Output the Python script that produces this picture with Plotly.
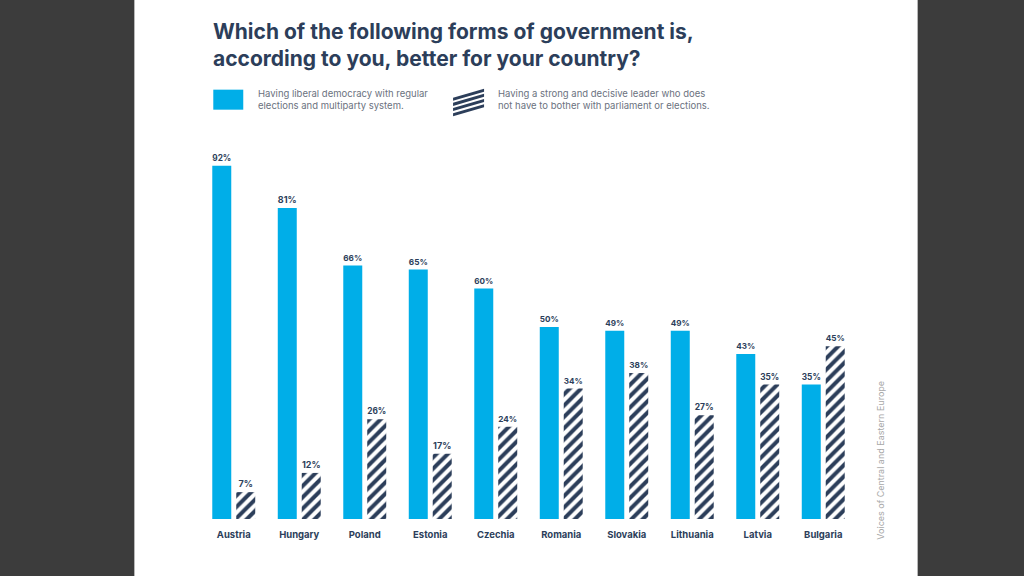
import plotly.graph_objects as go

countries = ["Austria", "Hungary", "Poland", "Estonia", "Czechia", "Romania",
             "Slovakia", "Lithuania", "Latvia", "Bulgaria"]
democracy = [92, 81, 66, 65, 60, 50, 49, 49, 43, 35]
strong_leader = [7, 12, 26, 17, 24, 34, 38, 27, 35, 45]

title_text = "Which of the following forms of government is,<br>according to you, better for your country?"
legend_a = "Having liberal democracy with regular<br>elections and multiparty system."
legend_b = "Having a strong and decisive leader who does<br>not have to bother with parliament or elections."
source = "Voices of Central and Eastern Europe"

BLUE = "#00aee8"
NAVY = "#2c3e5a"
DARK = "#3c3c3c"
FONT = "Inter"

W, H = 1024, 576
L, R, T, B = 200.7, 856.3, 135.3, 519.0
pw, ph = R - L, B - T


def px(x):
    return (x - L) / pw


def py(y):
    return (B - y) / ph


fig = go.Figure()
fig.add_trace(go.Bar(
    x=countries, y=democracy, name="democracy",
    marker=dict(color=BLUE, line=dict(width=0)),
    text=[f"{v}%" for v in democracy], textposition="outside",
    textfont=dict(family=FONT, size=9, color=NAVY, weight="bold"),
    cliponaxis=False,
))
fig.add_trace(go.Bar(
    x=countries, y=strong_leader, name="leader",
    marker=dict(color="white", line=dict(width=0),
                pattern=dict(shape="/", fgcolor=NAVY, bgcolor="white",
                             size=8, solidity=0.5, fgopacity=1)),
    text=[f"{v}%" for v in strong_leader], textposition="outside",
    textfont=dict(family=FONT, size=9, color=NAVY, weight="bold"),
    cliponaxis=False,
))

shapes = [
    # white page panel
    dict(type="rect", xref="paper", yref="paper", x0=px(134), x1=px(918),
         y0=py(576), y1=py(0), fillcolor="white", line=dict(width=0), layer="below"),
    # legend swatch solid
    dict(type="rect", xref="paper", yref="paper", x0=px(213), x1=px(243),
         y0=py(110), y1=py(90), fillcolor=BLUE, line=dict(width=0)),
]
# legend swatch hatched (4 diagonal stripes)
sx0, sx1 = 453, 484
for i in range(4):
    yb = 94 + i * 5.2
    shapes.append(dict(
        type="path", xref="paper", yref="paper",
        path=(f"M {px(sx0)},{py(yb + 4)} L {px(sx1)},{py(yb - 5)} "
              f"L {px(sx1)},{py(yb - 2)} L {px(sx0)},{py(yb + 7)} Z"),
        fillcolor=NAVY, line=dict(width=0)))

annotations = [
    dict(text=f"<b>{title_text}</b>", xref="paper", yref="paper",
         x=px(211), y=py(17), xanchor="left", yanchor="top", align="left",
         showarrow=False, font=dict(family=FONT, size=21, color=NAVY)),
    dict(text=legend_a, xref="paper", yref="paper", x=px(256), y=py(100),
         xanchor="left", yanchor="middle", align="left", showarrow=False,
         font=dict(family=FONT, size=9.5, color="#6b7280")),
    dict(text=legend_b, xref="paper", yref="paper", x=px(496), y=py(100),
         xanchor="left", yanchor="middle", align="left", showarrow=False,
         font=dict(family=FONT, size=9.5, color="#6b7280")),
    dict(text=source, xref="paper", yref="paper", x=px(881), y=py(460),
         xanchor="center", yanchor="middle", textangle=-90, showarrow=False,
         font=dict(family=FONT, size=9, color="#a8a8a8")),
]

fig.update_layout(
    width=W, height=H,
    margin=dict(l=L, r=W - R, t=T, b=H - B, pad=0),
    paper_bgcolor=DARK, plot_bgcolor="rgba(0,0,0,0)",
    barmode="group", bargap=0.268, bargroupgap=0.208,
    showlegend=False,
    shapes=shapes, annotations=annotations,
    xaxis=dict(showgrid=False, zeroline=False, showline=False, ticks="",
               tickfont=dict(family=FONT, size=9.5, color=NAVY, weight="bold"),
               ticklabelstandoff=8),
    yaxis=dict(range=[0, 100], visible=False, showgrid=False),
)

fig.write_html("out.html")
